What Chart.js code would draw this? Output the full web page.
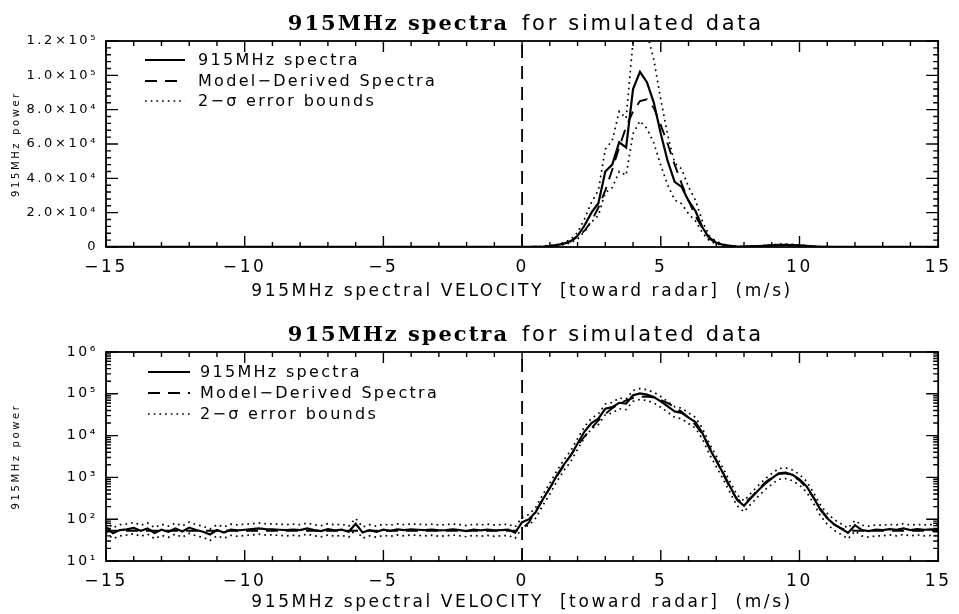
<!DOCTYPE html>
<html>
<head>
<meta charset="utf-8">
<script src="https://cdn.jsdelivr.net/npm/chart.js@4.4.0/dist/chart.umd.min.js"></script>
<style>
  body { margin: 0; background: #fff; }
  canvas { display: block; }
</style>
</head>
<body>
<canvas id="graficoLineal" width="959" height="307"></canvas>
<canvas id="graficoLog" width="959" height="307"></canvas>
<script>
// Velocidad radial (m/s)
const velocity = [
  -15, -14.75, -14.5, -14.25, -14, -13.75, -13.5, -13.25, -13, -12.75,
  -12.5, -12.25, -12, -11.75, -11.5, -11.25, -11, -10.75, -10.5, -10.25,
  -10, -9.75, -9.5, -9.25, -9, -8.75, -8.5, -8.25, -8, -7.75,
  -7.5, -7.25, -7, -6.75, -6.5, -6.25, -6, -5.75, -5.5, -5.25,
  -5, -4.75, -4.5, -4.25, -4, -3.75, -3.5, -3.25, -3, -2.75,
  -2.5, -2.25, -2, -1.75, -1.5, -1.25, -1, -0.75, -0.5, -0.25,
  0, 0.25, 0.5, 0.75, 1, 1.25, 1.5, 1.75, 2, 2.25,
  2.5, 2.75, 3, 3.25, 3.5, 3.75, 4, 4.25, 4.5, 4.75,
  5, 5.25, 5.5, 5.75, 6, 6.25, 6.5, 6.75, 7, 7.25,
  7.5, 7.75, 8, 8.25, 8.5, 8.75, 9, 9.25, 9.5, 9.75,
  10, 10.25, 10.5, 10.75, 11, 11.25, 11.5, 11.75, 12, 12.25,
  12.5, 12.75, 13, 13.25, 13.5, 13.75, 14, 14.25, 14.5, 14.75,
  15
];

// Espectro 915MHz
const spectra = [
  66, 46, 55, 57, 62, 53, 60, 47, 56, 50,
  60, 51, 63, 55, 50, 43, 55, 48, 56, 54,
  56, 58, 60, 58, 57, 56, 55, 56, 55, 60,
  55, 52, 58, 54, 56, 50, 78, 48, 55, 50,
  56, 53, 57, 55, 57, 56, 55, 56, 54, 55,
  57, 55, 52, 56, 54, 56, 54, 55, 56, 48,
  85, 100, 150, 300, 560, 1100, 2000, 3300, 6500, 12500,
  20000, 25500, 44000, 48000, 61000, 58000, 92000, 102000, 96000, 84000,
  66000, 50000, 38000, 35000, 27000, 21000, 11500, 5000, 2500, 1250,
  600, 290, 210, 320, 480, 700, 950, 1250, 1300, 1150,
  900, 620, 340, 170, 105, 75, 60, 47, 72, 55,
  52, 56, 55, 58, 56, 60, 55, 58, 56, 57,
  55
];

// Espectro derivado del modelo
const model = [
  53, 53, 53, 53, 53, 53, 53, 53, 53, 53,
  53, 53, 53, 53, 53, 53, 53, 53, 53, 53,
  53, 53, 53, 53, 53, 53, 53, 53, 53, 53,
  53, 53, 53, 53, 53, 53, 53, 53, 53, 53,
  53, 53, 53, 53, 53, 53, 53, 53, 53, 53,
  53, 53, 53, 53, 53, 53, 53, 53, 53, 53,
  58, 85, 160, 300, 560, 1050, 1900, 3400, 5800, 9500,
  15000, 23000, 33000, 45000, 58000, 70000, 79000, 85000, 86000, 81000,
  71000, 60000, 48000, 37000, 27000, 18000, 11000, 5500, 2600, 1200,
  560, 300, 240, 330, 500, 750, 1000, 1200, 1250, 1100,
  850, 570, 330, 180, 110, 75, 60, 55, 53, 53,
  53, 53, 53, 53, 53, 53, 53, 53, 53, 53,
  53
];

// Cotas de error 2-sigma
const upperBound = [
  89, 62, 74, 77, 84, 72, 81, 63, 76, 68,
  81, 69, 85, 74, 68, 58, 74, 65, 76, 73,
  76, 78, 81, 78, 77, 76, 74, 76, 74, 81,
  74, 70, 78, 73, 76, 68, 105, 65, 74, 68,
  76, 72, 77, 74, 77, 76, 74, 76, 73, 74,
  77, 74, 70, 76, 73, 76, 73, 74, 76, 65,
  110, 130, 195, 390, 730, 1430, 2600, 4300, 8500, 16300,
  26000, 33000, 57000, 62000, 79000, 75000, 120000, 133000, 125000, 109000,
  86000, 65000, 49000, 45500, 35000, 27300, 15000, 6500, 3250, 1630,
  780, 380, 275, 420, 625, 910, 1240, 1630, 1690, 1500,
  1170, 810, 440, 220, 137, 98, 78, 61, 94, 72,
  68, 73, 72, 75, 73, 78, 72, 75, 73, 74,
  72
];

const lowerBound = [
  48, 34, 40, 42, 45, 39, 44, 34, 41, 37,
  44, 37, 46, 40, 37, 31, 40, 35, 41, 39,
  41, 42, 44, 42, 42, 41, 40, 41, 40, 44,
  40, 38, 42, 39, 41, 37, 57, 35, 40, 37,
  41, 39, 42, 40, 42, 41, 40, 41, 39, 40,
  42, 40, 38, 41, 39, 41, 39, 40, 41, 35,
  62, 72, 108, 216, 400, 790, 1440, 2380, 4700, 9000,
  14400, 18400, 31700, 34500, 44000, 41800, 66000, 73400, 69000, 60500,
  47500, 36000, 27400, 25200, 19400, 15100, 8300, 3600, 1800, 900,
  430, 210, 150, 230, 345, 500, 680, 900, 940, 830,
  650, 450, 245, 122, 76, 54, 43, 34, 52, 40,
  37, 40, 40, 42, 40, 43, 40, 42, 40, 41,
  40
];

// Linea vertical en velocidad cero
const zeroLineX = [0, 0];
const zeroLineLin = [0, 120000];
const zeroLineLog = [10, 1000000];

const legendLabels = ['915MHz spectra', 'Model\u2212Derived Spectra', '2\u2212\u03c3 error bounds'];
const titleBold = '915MHz spectra';
const titleRest = 'for simulated data';
const xTitle = '915MHz spectral VELOCITY  [toward radar]  (m/s)';
const yTitle = '915MHz power';

const FUENTE = "'DejaVu Sans', sans-serif";
const SUP = { '0': '\u2070', '1': '\u00b9', '2': '\u00b2', '3': '\u00b3', '4': '\u2074', '5': '\u2075', '6': '\u2076' };

function puntos(ys, xs) {
  return (xs || velocity).map((v, i) => ({ x: v, y: ys[i] }));
}

function etiquetaLineal(v) {
  if (v === 0) return '0';
  const e = Math.floor(Math.log10(v) + 1e-9);
  return (v / Math.pow(10, e)).toFixed(1) + '\u00d710' + SUP[e];
}

function etiquetaLog(v) {
  const e = Math.round(Math.log10(v));
  if (Math.abs(v - Math.pow(10, e)) > 1e-6 * v) return '';
  return '10' + SUP[e];
}

function datasetsPara(zeroY) {
  return [
    { label: legendLabels[0], data: puntos(spectra), borderColor: '#000', borderWidth: 2.2, borderDash: [] },
    { label: legendLabels[1], data: puntos(model), borderColor: '#000', borderWidth: 1.9, borderDash: [12, 8] },
    { label: legendLabels[2], data: puntos(upperBound), borderColor: '#000', borderWidth: 1.7, borderDash: [1.7, 4] },
    { label: legendLabels[2] + ' low', data: puntos(lowerBound), borderColor: '#000', borderWidth: 1.7, borderDash: [1.7, 4] },
    { label: 'zero', data: puntos(zeroY, zeroLineX), borderColor: '#000', borderWidth: 1.8, borderDash: [13, 8] }
  ].map(d => Object.assign(d, { pointRadius: 0, tension: 0, fill: false }));
}

// Marco con marcas hacia adentro, estilo IDL
function crearMarco(yTicks) {
  return {
    id: 'marco',
    beforeDraw(chart) {
      chart.ctx.letterSpacing = '2.6px';
    },
    afterDatasetsDraw(chart) {
      const { ctx, chartArea: a, scales: { x, y } } = chart;
      ctx.save();
      ctx.letterSpacing = '0px';
      ctx.strokeStyle = '#000';
      ctx.setLineDash([]);
      ctx.lineWidth = 1.8;
      ctx.strokeRect(a.left, a.top, a.right - a.left, a.bottom - a.top);
      ctx.lineWidth = 1.4;
      ctx.beginPath();
      for (let v = -15; v <= 15; v++) {
        const px = x.getPixelForValue(v);
        const len = v % 5 === 0 ? 11 : 5;
        ctx.moveTo(px, a.bottom); ctx.lineTo(px, a.bottom - len);
        ctx.moveTo(px, a.top); ctx.lineTo(px, a.top + len);
      }
      yTicks.forEach(t => {
        const py = y.getPixelForValue(t.v);
        const len = t.mayor ? 12 : 5;
        ctx.moveTo(a.left, py); ctx.lineTo(a.left + len, py);
        ctx.moveTo(a.right, py); ctx.lineTo(a.right - len, py);
      });
      ctx.stroke();
      ctx.restore();
    }
  };
}

function crearTitulo(baseY) {
  return {
    id: 'titulo',
    afterDraw(chart) {
      const ctx = chart.ctx;
      ctx.save();
      ctx.fillStyle = '#000';
      ctx.textBaseline = 'alphabetic';
      ctx.letterSpacing = '2px';
      ctx.font = "bold 21px 'DejaVu Serif', serif";
      ctx.textAlign = 'right';
      ctx.fillText(titleBold, 509, baseY);
      ctx.letterSpacing = '2.7px';
      ctx.font = '21px ' + FUENTE;
      ctx.textAlign = 'left';
      ctx.fillText(titleRest, 522, baseY);
      ctx.restore();
    }
  };
}

function crearLeyenda(pos) {
  return {
    id: 'leyenda',
    afterDraw(chart) {
      const ctx = chart.ctx;
      const ds = chart.data.datasets;
      ctx.save();
      ctx.fillStyle = '#000';
      ctx.strokeStyle = '#000';
      ctx.font = '16px ' + FUENTE;
      ctx.letterSpacing = '2.3px';
      ctx.textBaseline = 'middle';
      ctx.textAlign = 'left';
      for (let i = 0; i < 3; i++) {
        const y = pos.y[i];
        ctx.lineWidth = ds[i].borderWidth;
        ctx.setLineDash(ds[i].borderDash);
        ctx.beginPath();
        ctx.moveTo(pos.x0, y);
        ctx.lineTo(pos.x1, y);
        ctx.stroke();
        ctx.fillText(legendLabels[i], pos.xText, y + 1);
      }
      ctx.restore();
    }
  };
}

function escalaX(alto, padTitulo) {
  return {
    type: 'linear', min: -15, max: 15,
    afterFit(s) { s.height = alto; },
    grid: { display: false, drawTicks: false },
    border: { display: false },
    ticks: {
      stepSize: 5, padding: 10, color: '#000', font: { family: FUENTE, size: 17 },
      callback: v => v < 0 ? '\u2212' + Math.abs(v) : String(v)
    },
    title: { display: true, text: xTitle, color: '#000', font: { family: FUENTE, size: 17 }, padding: { top: 0, bottom: padTitulo } }
  };
}

const tituloY = { display: true, text: yTitle, color: '#000', font: { family: FUENTE, size: 10 }, padding: { top: 10, bottom: 0 } };

// Grafico lineal
const ticksLineal = [];
for (let v = 0; v <= 120000; v += 4000) ticksLineal.push({ v: v, mayor: v % 20000 === 0 });

new Chart(document.getElementById('graficoLineal'), {
  type: 'line',
  data: { datasets: datasetsPara(zeroLineLin) },
  options: {
    responsive: false,
    animation: false,
    layout: { padding: { top: 41, right: 12, left: 0, bottom: 0 } },
    plugins: { legend: { display: false }, tooltip: { enabled: false } },
    scales: {
      x: escalaX(60, 5),
      y: {
        type: 'linear', min: 0, max: 120000,
        afterFit(s) { s.width = 106; },
        grid: { display: false, drawTicks: false },
        border: { display: false },
        ticks: { stepSize: 20000, padding: 8, color: '#000', font: { family: FUENTE, size: 13 }, callback: etiquetaLineal },
        title: tituloY
      }
    }
  },
  plugins: [crearMarco(ticksLineal), crearTitulo(30), crearLeyenda({ x0: 145, x1: 185, xText: 198, y: [60, 81, 101] })]
});

// Grafico logaritmico
const ticksLog = [];
for (let e = 1; e <= 5; e++) {
  for (let m = 1; m <= 9; m++) ticksLog.push({ v: m * Math.pow(10, e), mayor: m === 1 });
}
ticksLog.push({ v: 1000000, mayor: true });

new Chart(document.getElementById('graficoLog'), {
  type: 'line',
  data: { datasets: datasetsPara(zeroLineLog) },
  options: {
    responsive: false,
    animation: false,
    layout: { padding: { top: 45, right: 11, left: 0, bottom: 0 } },
    plugins: { legend: { display: false }, tooltip: { enabled: false } },
    scales: {
      x: escalaX(53, 1),
      y: {
        type: 'logarithmic', min: 10, max: 1000000,
        afterFit(s) { s.width = 106; },
        grid: { display: false, drawTicks: false },
        border: { display: false },
        ticks: { autoSkip: false, padding: 8, color: '#000', font: { family: FUENTE, size: 14 }, callback: etiquetaLog },
        title: tituloY
      }
    }
  },
  plugins: [crearMarco(ticksLog), crearTitulo(34), crearLeyenda({ x0: 148, x1: 190, xText: 200, y: [65, 86, 107] })]
});
</script>
</body>
</html>
